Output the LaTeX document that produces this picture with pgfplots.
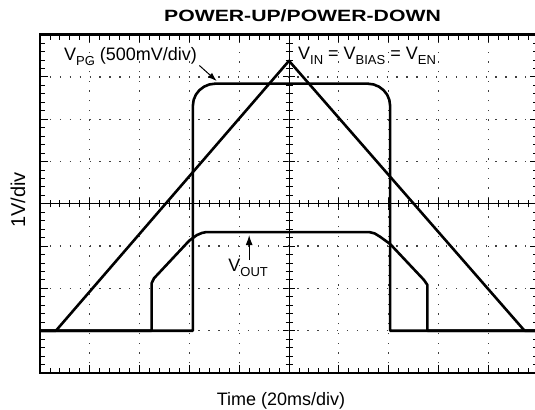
\documentclass[border=0pt]{standalone}
\usepackage{pgfplots}
\pgfplotsset{compat=1.18}
\usetikzlibrary{arrows.meta}
\usepackage{fontspec}
\setmainfont{Liberation Sans}
\newcommand{\sub}[1]{\raisebox{-0.27em}{\fontsize{13bp}{13bp}\selectfont #1}}
\tikzset{trace/.style={black, no marks, line width=2.6bp, line join=round, line cap=round}}
\begin{document}
\begin{tikzpicture}
% centre crosshair with its small ticks (drawn under the axis)
\begin{scope}[x=49.8bp, y=42.3bp, shift={(249bp,169.2bp)}, line width=0.9bp]
  \draw (-5,0) -- (5,0);
  \draw (0,-4) -- (0,4);
  \foreach \i in {-25,...,25} {
    \draw ({\i/5},0) ++(0,-3.5bp) -- ++(0,7bp);
  }
  \foreach \i in {-20,...,20} {
    \draw (0,{\i/5}) ++(-3.5bp,0) -- ++(7bp,0);
  }
  \foreach \i in {-4,...,4} {
    \draw (\i,0) ++(0,-6bp) -- ++(0,12bp);
  }
  \foreach \i in {-3,...,3} {
    \draw (0,\i) ++(-6bp,0) -- ++(12bp,0);
  }
  % border ticks
  \foreach \i in {-25,...,25} {
    \draw ({\i/5},-4) -- ++(0,5bp);
    \draw ({\i/5},4) -- ++(0,-5bp);
  }
  \foreach \i in {-20,...,20} {
    \draw (-5,{\i/5}) -- ++(5bp,0);
    \draw (5,{\i/5}) -- ++(-5bp,0);
  }
  \foreach \i in {-5,...,5} {
    \draw (\i,-4) -- ++(0,8bp);
    \draw (\i,4) -- ++(0,-8bp);
  }
  \foreach \i in {-4,...,4} {
    \draw (-5,\i) -- ++(8bp,0);
    \draw (5,\i) -- ++(-8bp,0);
  }
  % dotted grid
  \foreach \i in {-4,-3,-2,-1,1,2,3,4} {
    \draw[black!75, line width=1.3bp, dash pattern=on 1.3bp off 8.4bp] (\i,-4) -- (\i,4);
  }
  \foreach \i in {-3,-2,-1,1,2,3} {
    \draw[black!75, line width=1.3bp, dash pattern=on 1.3bp off 8.6bp] (-5,\i) -- (5,\i);
  }
\end{scope}
\begin{axis}[
  scale only axis,
  width=498bp, height=338.4bp,
  xmin=-5, xmax=5, ymin=-4, ymax=4,
  xtick=\empty, ytick=\empty,
  axis line style={line width=2.6bp},
]
% V_IN = V_BIAS = V_EN
\addplot[trace] coordinates {(-5,-3) (-4.68,-3) (0,3.38) (4.73,-3) (5,-3)};
% V_PG
\addplot[trace] coordinates {(-5,-3) (-1.93,-3) (-1.93,2.32) (-1.915,2.455) (-1.87,2.58) (-1.798,2.688) (-1.705,2.77) (-1.597,2.822) (-1.48,2.84)
  (1.58,2.84) (1.697,2.822) (1.805,2.77) (1.898,2.688) (1.97,2.58) (2.015,2.455) (2.03,2.32) (2.03,-3) (5,-3)};
% V_OUT
\addplot[trace] coordinates {(-5,-3) (-2.76,-3) (-2.76,-1.88) (-2.71,-1.76) (-2.05,-0.93) (-1.99,-0.86) (-1.85,-0.74) (-1.75,-0.69) (-1.67,-0.67)
  (1.62,-0.67) (1.72,-0.70) (1.83,-0.78) (2.03,-0.95) (2.71,-1.80) (2.78,-1.92) (2.78,-3) (5,-3)};
\node[anchor=base west, inner sep=0, font=\fontsize{18bp}{20bp}\selectfont] at (axis cs:-4.52,3.39) {V\sub{PG} (500mV/div)};
\draw[-{Latex[length=9bp,width=6bp]}, line width=1bp] (axis cs:-1.80,3.27) -- (axis cs:-1.45,2.90);
\node[anchor=base west, inner sep=0, font=\fontsize{18bp}{20bp}\selectfont] at (axis cs:0.18,3.40) {V\sub{IN} = V\sub{BIAS} = V\sub{EN}};
\draw[-{Latex[length=10bp,width=7bp]}, line width=1bp] (axis cs:-0.80,-1.33) -- (axis cs:-0.80,-0.74);
\node[anchor=base west, inner sep=0, font=\fontsize{18bp}{20bp}\selectfont] at (axis cs:-1.22,-1.60) {V\sub{OUT}};
\end{axis}
\node[anchor=base, inner sep=0] at (262.5bp,351.3bp) {\scalebox{1.3}[1]{\fontsize{16.3bp}{18bp}\selectfont\bfseries POWER-UP/POWER-DOWN}};
\node[anchor=base, inner sep=0, font=\fontsize{18bp}{20bp}\selectfont] at (241bp,-32bp) {Time (20ms/div)};
\node[anchor=base, inner sep=0, rotate=90, font=\fontsize{20bp}{22bp}\selectfont] at (-15bp,173bp) {1V/div};
\pgfresetboundingbox
\path[use as bounding box] (-40bp,-37bp) rectangle (495bp,373bp);
\end{tikzpicture}
\end{document}
